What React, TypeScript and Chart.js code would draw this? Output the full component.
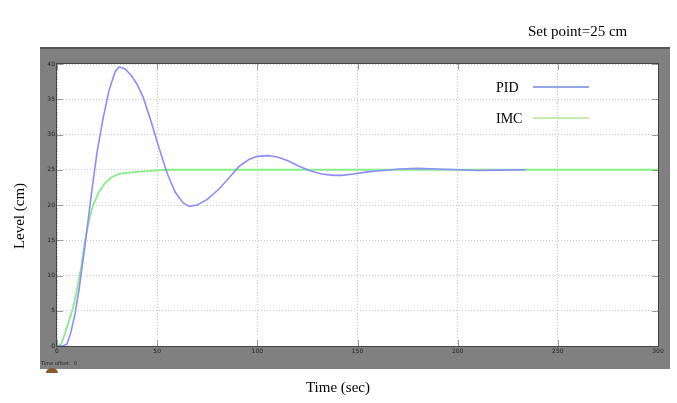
import React, { useEffect, useRef } from "react";
import { Chart, registerables } from "chart.js";

Chart.register(...registerables);

const pidTime = [0, 3, 5, 7, 9, 11, 14, 17, 20, 23, 26, 29, 31, 34, 37, 40, 43, 47, 51, 55, 59, 63, 66, 70, 75, 81, 86, 91, 96, 100, 105, 110, 115, 120, 126, 132, 138, 142, 148, 155, 163, 171, 180, 190, 200, 210, 220, 234];
const pidLevel = [0, 0, 0.3, 2, 4.6, 8, 14.3, 21.2, 27.5, 32.3, 36.3, 38.9, 39.6, 39.3, 38.4, 37.1, 35.3, 31.8, 28.0, 24.5, 21.8, 20.3, 19.8, 20.0, 20.8, 22.3, 23.9, 25.5, 26.5, 26.9, 27.0, 26.8, 26.3, 25.6, 24.9, 24.4, 24.2, 24.2, 24.4, 24.7, 24.9, 25.1, 25.2, 25.1, 25.0, 24.9, 24.95, 25.0];

const imcTime = [0, 2, 4, 6, 8, 10, 12, 14, 16, 18, 21, 24, 27, 31, 36, 40, 46, 55, 300];
const imcLevel = [0, 0.2, 1.8, 3.6, 5.4, 8, 11, 15, 17.8, 20, 21.9, 23.1, 23.9, 24.4, 24.6, 24.7, 24.85, 25, 25];

const seriesLabels = ["PID", "IMC"];
const xTitle = "Time (sec)";
const yTitle = "Level (cm)";
const noteText = "Set point=25 cm";
const offsetText = "Time offset:  0";

const toPoints = (xs: number[], ys: number[]) => xs.map((x, i) => ({ x, y: ys[i] }));

const legendColors = ["#2a4fd0", "#8fd860"];

const framePlugin = {
  id: "frame",
  beforeDraw(chart: any) {
    const { ctx, chartArea } = chart;
    const { left, top, right, bottom } = chartArea;
    ctx.save();
    ctx.fillStyle = "#ffffff";
    ctx.fillRect(0, 0, chart.width, chart.height);
    ctx.fillStyle = "#808080";
    ctx.fillRect(40, 48, 630, 321);
    ctx.fillStyle = "#555555";
    ctx.fillRect(40, 47, 630, 2);
    ctx.fillStyle = "#ffffff";
    ctx.fillRect(left, top, right - left, bottom - top);
    ctx.restore();
  },
  afterDatasetsDraw(chart: any) {
    const { ctx, chartArea, scales } = chart;
    const { left, top, right, bottom } = chartArea;
    ctx.save();
    ctx.strokeStyle = "#9a9a9a";
    ctx.lineWidth = 1;
    scales.x.ticks.forEach((t: any) => {
      const px = Math.round(scales.x.getPixelForValue(t.value)) + 0.5;
      ctx.beginPath();
      ctx.moveTo(px, bottom);
      ctx.lineTo(px, bottom - 6);
      ctx.moveTo(px, top);
      ctx.lineTo(px, top + 6);
      ctx.stroke();
    });
    scales.y.ticks.forEach((t: any) => {
      const py = Math.round(scales.y.getPixelForValue(t.value)) + 0.5;
      ctx.beginPath();
      ctx.moveTo(left, py);
      ctx.lineTo(left + 6, py);
      ctx.moveTo(right, py);
      ctx.lineTo(right - 6, py);
      ctx.stroke();
    });
    ctx.strokeStyle = "#444444";
    ctx.strokeRect(left - 0.5, top - 0.5, right - left + 1, bottom - top + 1);
    ctx.restore();
  },
  afterDraw(chart: any) {
    const { ctx } = chart;
    ctx.save();
    ctx.fillStyle = "#000000";
    ctx.font = "15px 'Liberation Serif', serif";
    ctx.textAlign = "center";
    ctx.textBaseline = "middle";
    ctx.fillText(xTitle, 338, 388);
    ctx.save();
    ctx.translate(20, 216);
    ctx.rotate(-Math.PI / 2);
    ctx.fillText(yTitle, 0, 0);
    ctx.restore();
    ctx.font = "15px 'Liberation Serif', serif";
    ctx.textAlign = "left";
    ctx.fillText(noteText, 528, 32);
    const ys = [87, 118];
    chart.data.datasets.forEach((ds: any, i: number) => {
      ctx.fillStyle = "#000000";
      ctx.font = "14px 'Liberation Serif', serif";
      ctx.textAlign = "left";
      ctx.textBaseline = "middle";
      ctx.fillText(ds.label, 496, ys[i] + 1);
      ctx.strokeStyle = legendColors[i];
      ctx.lineWidth = 1.2;
      ctx.beginPath();
      ctx.moveTo(533, ys[i]);
      ctx.lineTo(589, ys[i]);
      ctx.stroke();
    });
    ctx.fillStyle = "#222222";
    ctx.font = "5px 'DejaVu Sans', sans-serif";
    ctx.textAlign = "left";
    ctx.fillText(offsetText, 41, 364);
    ctx.fillStyle = "#8a5a2a";
    ctx.beginPath();
    ctx.ellipse(52, 373, 6, 5, 0, Math.PI, 2 * Math.PI);
    ctx.fill();
    ctx.restore();
  },
};

export default function App() {
  const ref = useRef<HTMLCanvasElement | null>(null);
  useEffect(() => {
    if (!ref.current) return;
    const chart = new Chart(ref.current, {
      type: "line",
      data: {
        datasets: [
          {
            label: seriesLabels[0],
            data: toPoints(pidTime, pidLevel),
            borderColor: "#8c8cff",
            borderWidth: 1.6,
            pointRadius: 0,
            tension: 0,
          },
          {
            label: seriesLabels[1],
            data: toPoints(imcTime, imcLevel),
            borderColor: "#86ee86",
            borderWidth: 1.8,
            pointRadius: 0,
            tension: 0,
          },
        ],
      },
      options: {
        animation: false,
        responsive: false,
        maintainAspectRatio: false,
        layout: { padding: { left: 0, right: 19, top: 64, bottom: 0 } },
        plugins: { legend: { display: false }, tooltip: { enabled: false } },
        scales: {
          x: {
            type: "linear",
            min: 0,
            max: 300,
            afterFit: (s: any) => {
              s.height = 57;
            },
            border: { display: false, dash: [1, 2] },
            grid: { color: "#c8c8c8", drawTicks: false, lineWidth: 1 },
            ticks: {
              stepSize: 50,
              autoSkip: false,
              maxRotation: 0,
              padding: 2,
              color: "#222222",
              font: { size: 6, family: "'DejaVu Sans', sans-serif" },
            },
          },
          y: {
            type: "linear",
            min: 0,
            max: 40,
            afterFit: (s: any) => {
              s.width = 57;
            },
            border: { display: false, dash: [1, 2] },
            grid: { color: "#c8c8c8", drawTicks: false, lineWidth: 1 },
            ticks: {
              stepSize: 5,
              autoSkip: false,
              padding: 2,
              color: "#222222",
              font: { size: 6, family: "'DejaVu Sans', sans-serif" },
            },
          },
        },
      },
      plugins: [framePlugin],
    });
    return () => chart.destroy();
  }, []);
  return (
    <div style={{ position: "fixed", left: 0, top: 0, width: 677, height: 403, background: "#fff" }}>
      <canvas ref={ref} width={677} height={403} style={{ display: "block", width: 677, height: 403 }} />
    </div>
  );
}
